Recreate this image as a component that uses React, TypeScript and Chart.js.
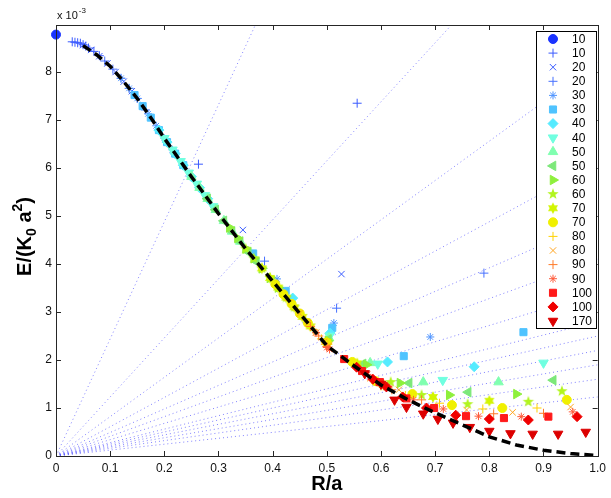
import React, { useEffect, useRef } from "react";
import { Chart, registerables } from "chart.js";
import { drawPoint } from "chart.js/helpers";

Chart.register(...registerables);

const FONT = '"Liberation Sans", Arial, Helvetica, sans-serif';

// E/(K0 a^2) values are in units of 1e-3 (the axis carries "x 10^-3")
const legendLabels = ["10", "10", "20", "20", "30", "30", "40", "40", "50", "50", "60", "60", "70", "70", "80", "80", "90", "90", "100", "100", "170"];

// black dashed reference curve
const theory: [number, number][] = [
  [0.05, 8.55], [0.075, 8.36], [0.1, 8.12], [0.125, 7.8], [0.15, 7.45], [0.175, 7.05], [0.2, 6.62],
  [0.25, 5.82], [0.3, 5.05], [0.35, 4.32], [0.4, 3.64], [0.45, 2.97], [0.5, 2.3], [0.55, 1.88],
  [0.6, 1.48], [0.65, 1.17], [0.7, 0.9], [0.75, 0.65], [0.8, 0.4], [0.85, 0.23], [0.9, 0.12],
  [0.95, 0.05], [1.0, 0.01],
];

// dotted rays from the origin: value reached at R/a = 1
const rayEnds = [24.4, 12.3, 8.2, 6.1, 4.9, 4.1, 3.4, 2.8, 2.5, 2.2, 1.9, 1.6, 1.23];

const p10dot: [number, number][] = [[0, 8.78]];
const p10plus: [number, number][] = [[0.03, 8.63], [0.035, 8.62], [0.04, 8.61], [0.045, 8.6], [0.05, 8.57], [0.055, 8.54], [0.06, 8.5], [0.07, 8.43], [0.08, 8.34], [0.263, 6.08], [0.556, 7.35]];
const p20x: [number, number][] = [[0.05, 8.56], [0.065, 8.46], [0.08, 8.33], [0.095, 8.18], [0.11, 8.0], [0.125, 7.8], [0.14, 7.6], [0.345, 4.71], [0.527, 3.79]];
const p20plus: [number, number][] = [[0.09, 8.23], [0.105, 8.06], [0.12, 7.87], [0.135, 7.66], [0.15, 7.45], [0.165, 7.21], [0.385, 4.06], [0.518, 3.08], [0.79, 3.81]];
const p30star: [number, number][] = [[0.12, 7.87], [0.135, 7.66], [0.15, 7.45], [0.17, 7.13], [0.185, 6.88], [0.2, 6.62], [0.215, 6.38], [0.408, 3.69], [0.513, 2.77], [0.691, 2.48]];
const p30sq: [number, number][] = [[0.145, 7.52], [0.16, 7.29], [0.175, 7.05], [0.19, 6.79], [0.205, 6.54], [0.22, 6.3], [0.235, 6.06], [0.364, 4.22], [0.424, 3.44], [0.51, 2.67], [0.642, 2.08], [0.863, 2.58]];
const p40dia: [number, number][] = [[0.19, 6.79], [0.205, 6.54], [0.22, 6.3], [0.235, 6.06], [0.25, 5.82], [0.265, 5.59], [0.28, 5.36], [0.437, 3.29], [0.506, 2.56], [0.612, 1.96], [0.772, 1.86]];
const p40down: [number, number][] = [[0.2, 6.62], [0.215, 6.38], [0.23, 6.14], [0.245, 5.9], [0.26, 5.67], [0.275, 5.43], [0.29, 5.2], [0.505, 2.5], [0.594, 1.92], [0.714, 1.58], [0.9, 1.94]];
const p50up: [number, number][] = [[0.25, 5.82], [0.265, 5.59], [0.28, 5.36], [0.295, 5.13], [0.31, 4.9], [0.325, 4.68], [0.34, 4.47], [0.504, 2.46], [0.58, 1.94], [0.678, 1.54], [0.817, 1.54]];
const p50left: [number, number][] = [[0.28, 5.36], [0.295, 5.13], [0.31, 4.9], [0.325, 4.68], [0.34, 4.47], [0.355, 4.25], [0.37, 4.05], [0.503, 2.43], [0.567, 1.92], [0.652, 1.52], [0.761, 1.33], [0.918, 1.58]];
const p60right: [number, number][] = [[0.32, 4.76], [0.335, 4.54], [0.35, 4.32], [0.365, 4.12], [0.38, 3.91], [0.395, 3.71], [0.41, 3.51], [0.502, 2.4], [0.573, 1.9], [0.635, 1.52], [0.726, 1.27], [0.85, 1.29]];
const p60star: [number, number][] = [[0.35, 4.32], [0.365, 4.12], [0.38, 3.91], [0.395, 3.71], [0.41, 3.51], [0.425, 3.3], [0.44, 3.1], [0.618, 1.54], [0.675, 1.27], [0.76, 1.08], [0.872, 1.13], [0.934, 1.35]];
const p70hex: [number, number][] = [[0.38, 3.91], [0.395, 3.71], [0.41, 3.51], [0.425, 3.3], [0.44, 3.1], [0.455, 2.9], [0.47, 2.7], [0.5, 2.38], [0.556, 1.93], [0.605, 1.48], [0.696, 1.23], [0.8, 1.15]];
const p70dot: [number, number][] = [[0.405, 3.58], [0.42, 3.37], [0.435, 3.17], [0.45, 2.97], [0.465, 2.77], [0.5, 2.36], [0.547, 1.96], [0.59, 1.56], [0.658, 1.29], [0.731, 1.06], [0.824, 1.0], [0.943, 1.17]];
const p80plus: [number, number][] = [[0.43, 3.24], [0.445, 3.04], [0.46, 2.84], [0.475, 2.63], [0.49, 2.44], [0.502, 2.33], [0.6, 1.46], [0.645, 1.26], [0.708, 1.1], [0.788, 0.98], [0.888, 1.0]];
const p80x: [number, number][] = [[0.45, 2.97], [0.465, 2.77], [0.48, 2.57], [0.495, 2.38], [0.504, 2.3], [0.58, 1.62], [0.633, 1.38], [0.758, 0.96], [0.843, 0.91], [0.95, 1.02]];
const p90plus: [number, number][] = [[0.47, 2.7], [0.485, 2.5], [0.5, 2.28], [0.59, 1.56], [0.62, 1.38], [0.675, 1.17], [0.808, 0.88], [0.9, 0.89]];
const p90star: [number, number][] = [[0.48, 2.57], [0.5, 2.26], [0.505, 2.22], [0.575, 1.7], [0.61, 1.43], [0.66, 1.17], [0.715, 0.98], [0.78, 0.83], [0.859, 0.82], [0.954, 0.92]];
const p100sq: [number, number][] = [[0.532, 2.02], [0.565, 1.77], [0.598, 1.54], [0.647, 1.2], [0.698, 1.0], [0.757, 0.83], [0.827, 0.79], [0.909, 0.82]];
const p100dia: [number, number][] = [[0.555, 1.85], [0.585, 1.6], [0.61, 1.44], [0.64, 1.23], [0.684, 1.0], [0.738, 0.85], [0.8, 0.77], [0.872, 0.75], [0.962, 0.82]];
const p170down: [number, number][] = [[0.57, 1.72], [0.6, 1.5], [0.625, 1.17], [0.647, 1.02], [0.678, 0.88], [0.705, 0.77], [0.733, 0.69], [0.764, 0.6], [0.8, 0.52], [0.839, 0.47], [0.88, 0.46], [0.927, 0.46], [0.978, 0.5]];

const allPoints = [
  p10dot, p10plus, p20x, p20plus, p30star, p30sq, p40dia, p40down, p50up, p50left, p60right,
  p60star, p70hex, p70dot, p80plus, p80x, p90plus, p90star, p100sq, p100dia, p170down,
];

const colors = [
  "#1a33ff", "#3a5aff", "#3a5cff", "#4670ff", "#4f94ff", "#4fc3ff", "#55ebff", "#70ffe0", "#80ffb0", "#7de87a", "#8ef03c",
  "#b2f51e", "#d2f500", "#f0f000", "#ffd200", "#ffa520", "#ff7a28", "#ff5a3a", "#ff1a1a", "#f00000", "#dc0000",
];
const markers = [
  "circle", "cross", "crossRot", "cross", "star", "rect", "rectRot", "triangle", "triangle", "triangle", "triangle",
  "pentagram", "hexagram", "circle", "cross", "crossRot", "cross", "star", "rect", "rectRot", "triangle",
];
const rotations = [0, 0, 0, 0, 0, 0, 0, 180, 0, 270, 90, 0, 0, 0, 0, 0, 0, 0, 0, 0, 180];
const radii = [4.5, 4.5, 4.5, 4.5, 4, 5, 5, 5.5, 5.5, 5.5, 5.5, 5, 5, 4.5, 4.5, 4.5, 4.5, 4, 5, 5, 5.5];

// star-shaped marker drawn into a small canvas (pentagram / hexagram)
function makeStar(color: string, n: number, outer: number, inner: number): HTMLCanvasElement {
  const c = document.createElement("canvas");
  c.width = 14;
  c.height = 14;
  const g = c.getContext("2d")!;
  g.fillStyle = color;
  g.beginPath();
  for (let i = 0; i < n * 2; i++) {
    const r = i % 2 === 0 ? outer : inner;
    const a = -Math.PI / 2 + (i * Math.PI) / n;
    const px = 7 + r * Math.cos(a);
    const py = 7 + r * Math.sin(a);
    if (i === 0) g.moveTo(px, py);
    else g.lineTo(px, py);
  }
  g.closePath();
  g.fill();
  return c;
}

const App: React.FC = () => {
  const canvasRef = useRef<HTMLCanvasElement | null>(null);
  const chartRef = useRef<Chart | null>(null);

  useEffect(() => {
    if (!canvasRef.current) return;
    if (chartRef.current) chartRef.current.destroy();

    const styles: any[] = markers.map((m, i) =>
      m === "pentagram" ? makeStar(colors[i], 5, 6, 2.4) : m === "hexagram" ? makeStar(colors[i], 6, 5.8, 3.3) : m
    );

    const markerSets = allPoints.map((pts, i) => ({
      label: legendLabels[i],
      data: pts.map(([x, y]) => ({ x, y })),
      pointStyle: styles[i],
      pointRotation: rotations[i],
      pointRadius: radii[i],
      pointHoverRadius: radii[i],
      pointBackgroundColor: colors[i],
      pointBorderColor: colors[i],
      pointBorderWidth: 1,
      showLine: false,
      clip: false as any,
      order: 40 - i,
    }));

    const raySets = rayEnds.map((k) => ({
      label: "ray",
      data: [{ x: 0, y: 0 }, { x: 1, y: k }],
      showLine: true,
      borderColor: "rgba(90,90,255,0.75)",
      borderWidth: 1,
      borderDash: [1, 3],
      pointRadius: 0,
      order: 100,
    }));

    const theorySet = {
      label: "theory",
      data: theory.map(([x, y]) => ({ x, y })),
      showLine: true,
      borderColor: "#000",
      borderWidth: 3.5,
      borderDash: [9, 5],
      pointRadius: 0,
      order: -1,
    };

    const frame = {
      id: "frame",
      afterDraw(chart: Chart) {
        const { ctx, chartArea: a } = chart;
        const sx = chart.scales.x;
        const sy = chart.scales.y;
        ctx.save();
        ctx.strokeStyle = "#262626";
        ctx.lineWidth = 1;
        ctx.strokeRect(Math.round(a.left) + 0.5, Math.round(a.top) + 0.5, Math.round(a.right - a.left), Math.round(a.bottom - a.top));
        ctx.beginPath();
        sx.ticks.forEach((t) => {
          const px = Math.round(sx.getPixelForValue(t.value)) + 0.5;
          ctx.moveTo(px, a.bottom);
          ctx.lineTo(px, a.bottom - 5);
          ctx.moveTo(px, a.top);
          ctx.lineTo(px, a.top + 5);
        });
        sy.ticks.forEach((t) => {
          const py = Math.round(sy.getPixelForValue(t.value)) + 0.5;
          ctx.moveTo(a.left, py);
          ctx.lineTo(a.left + 5, py);
          ctx.moveTo(a.right, py);
          ctx.lineTo(a.right - 5, py);
        });
        ctx.stroke();

        // legend box
        const lx = 536.5, ly = 31.5, lw = 60, lh = 297;
        ctx.fillStyle = "#fff";
        ctx.fillRect(lx, ly, lw, lh);
        ctx.strokeStyle = "#000";
        ctx.strokeRect(lx, ly, lw, lh);
        ctx.font = `12px ${FONT}`;
        ctx.textAlign = "left";
        ctx.textBaseline = "middle";
        legendLabels.forEach((lab, i) => {
          const y = 39 + i * 14.1;
          ctx.fillStyle = colors[i];
          ctx.strokeStyle = colors[i];
          ctx.lineWidth = 1;
          drawPoint(ctx, { pointStyle: styles[i], rotation: rotations[i], radius: radii[i], borderWidth: 1 } as any, 553, y);
          ctx.fillStyle = "#000";
          ctx.fillText(lab, 572, y + 0.5);
        });

        // exponent label
        ctx.fillStyle = "#111";
        ctx.textBaseline = "alphabetic";
        ctx.font = `11px ${FONT}`;
        ctx.fillText("x 10", 57, 19);
        const w10 = ctx.measureText("x 10").width;
        ctx.font = `8px ${FONT}`;
        ctx.fillText("-3", 57 + w10 + 1, 13);

        // x title
        ctx.fillStyle = "#000";
        ctx.font = `bold 20px ${FONT}`;
        ctx.textAlign = "center";
        ctx.fillText("R/a", (a.left + a.right) / 2, 490);

        // y title with subscript / superscript
        const parts: [string, number, number][] = [
          ["E/(K", 20, 0],
          ["0", 14, 5],
          [" a", 20, 0],
          ["2", 14, -9],
          [")", 20, 0],
        ];
        ctx.textAlign = "left";
        let total = 0;
        parts.forEach(([s, size]) => {
          ctx.font = `bold ${size}px ${FONT}`;
          total += ctx.measureText(s).width;
        });
        ctx.translate(31, (a.top + a.bottom) / 2 - 4);
        ctx.rotate(-Math.PI / 2);
        let cx = -total / 2;
        parts.forEach(([s, size, dy]) => {
          ctx.font = `bold ${size}px ${FONT}`;
          ctx.fillText(s, cx, dy);
          cx += ctx.measureText(s).width;
        });
        ctx.restore();
      },
    };

    chartRef.current = new Chart(canvasRef.current, {
      type: "scatter",
      data: { datasets: [theorySet, ...markerSets, ...raySets] as any },
      options: {
        animation: false,
        responsive: true,
        maintainAspectRatio: false,
        layout: { padding: { top: 25, right: 8, left: 0, bottom: 0 } },
        plugins: { legend: { display: false }, tooltip: { enabled: false } },
        scales: {
          x: {
            type: "linear",
            min: 0,
            max: 1,
            afterFit: (s: any) => {
              s.height = 42;
            },
            grid: { display: false, drawTicks: false },
            border: { display: false },
            ticks: { stepSize: 0.1, padding: 5, color: "#111", maxRotation: 0, font: { family: FONT, size: 12 } },
          },
          y: {
            type: "linear",
            min: 0,
            max: 8.98,
            afterFit: (s: any) => {
              s.width = 56;
            },
            grid: { display: false, drawTicks: false },
            border: { display: false },
            ticks: { stepSize: 1, includeBounds: false, padding: 4, color: "#111", font: { family: FONT, size: 12 } },
          },
        },
      },
      plugins: [frame],
    });

    return () => {
      if (chartRef.current) {
        chartRef.current.destroy();
        chartRef.current = null;
      }
    };
  }, []);

  return (
    <div style={{ position: "fixed", left: 0, top: 0, width: 611, height: 498, background: "#fff" }}>
      <canvas ref={canvasRef} />
    </div>
  );
};

export default App;
